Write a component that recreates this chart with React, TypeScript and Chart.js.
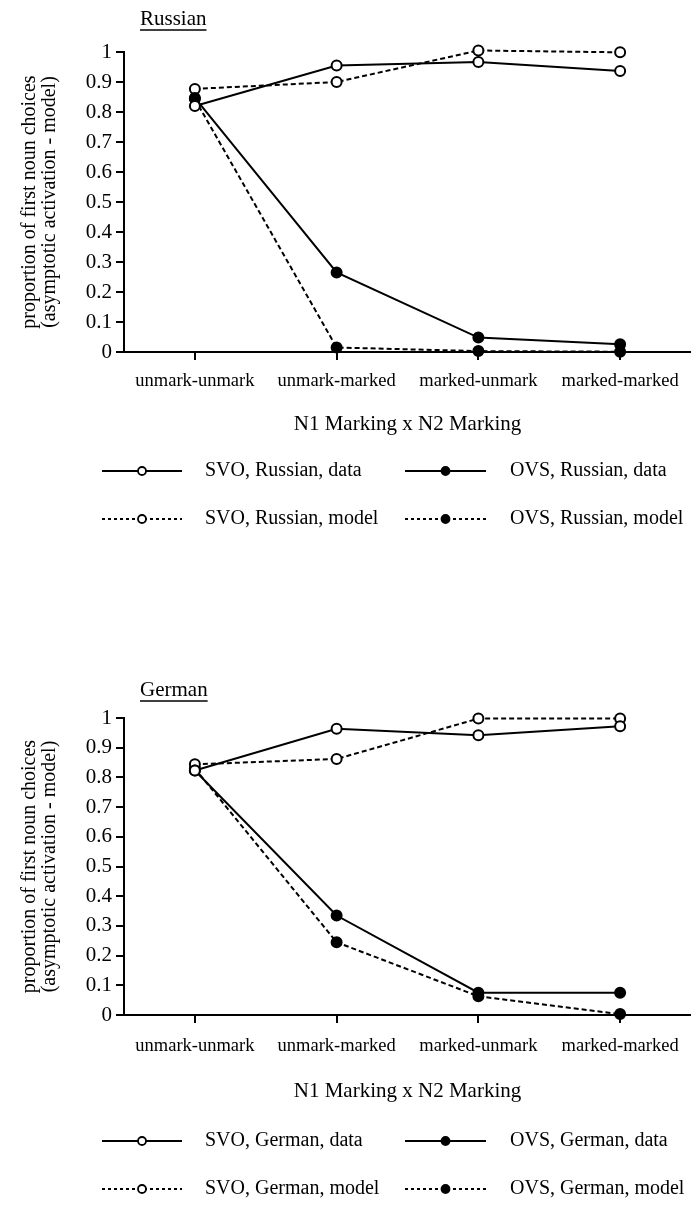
import React, { useEffect, useRef } from 'react';
import { Chart, registerables } from 'chart.js';

Chart.register(...registerables);

const categories = ['unmark-unmark', 'unmark-marked', 'marked-unmark', 'marked-marked'];
const yTickValues = [0, 0.1, 0.2, 0.3, 0.4, 0.5, 0.6, 0.7, 0.8, 0.9, 1];
const xAxisTitle = 'N1 Marking x N2 Marking';
const yAxisTitle = ['proportion of first noun choices', '(asymptotic activation - model)'];

const russianSvoData = [0.82, 0.955, 0.967, 0.937];
const russianSvoModel = [0.877, 0.9, 1.005, 0.999];
const russianOvsData = [0.847, 0.265, 0.048, 0.026];
const russianOvsModel = [0.843, 0.015, 0.003, 0.001];

const germanSvoData = [0.823, 0.964, 0.942, 0.972];
const germanSvoModel = [0.844, 0.862, 0.998, 0.998];
const germanOvsData = [0.823, 0.335, 0.075, 0.075];
const germanOvsModel = [0.83, 0.245, 0.063, 0.003];

const FONT = "'Liberation Serif', 'DejaVu Serif', serif";

type Series = { label: string; values: number[]; filled: boolean; dashed: boolean };
type Layout = {
  top: number;
  titleY: number;
  padTop: number;
  padBottom: number;
  axisHeight: number;
  labelPad: number;
  titlePadBottom: number;
  rows: number[];
};

function buildSeries(lang: string, svoData: number[], svoModel: number[], ovsData: number[], ovsModel: number[]): Series[] {
  return [
    { label: `SVO, ${lang}, data`, values: svoData, filled: false, dashed: false },
    { label: `OVS, ${lang}, data`, values: ovsData, filled: true, dashed: false },
    { label: `SVO, ${lang}, model`, values: svoModel, filled: false, dashed: true },
    { label: `OVS, ${lang}, model`, values: ovsModel, filled: true, dashed: true },
  ];
}

const DASH = [5, 3];

function Panel({ title, series, layout }: { title: string; series: Series[]; layout: Layout }) {
  const ref = useRef<HTMLCanvasElement | null>(null);
  useEffect(() => {
    document.body.style.margin = '0';
    const canvas = ref.current;
    if (!canvas) return;

    const overlay = {
      id: 'panelOverlay',
      afterDraw(chart: any) {
        const ctx = chart.ctx as CanvasRenderingContext2D;
        ctx.save();
        ctx.fillStyle = '#000';
        ctx.font = `21px ${FONT}`;
        ctx.textBaseline = 'middle';
        ctx.textAlign = 'left';
        const tx = 140;
        const ty = layout.titleY;
        ctx.fillText(title, tx, ty);
        const w = ctx.measureText(title).width;
        ctx.strokeStyle = '#000';
        ctx.lineWidth = 1.3;
        ctx.beginPath();
        ctx.moveTo(tx, ty + 11);
        ctx.lineTo(tx + w, ty + 11);
        ctx.stroke();

        const cols = [{ x0: 102, x1: 182, text: 205 }, { x0: 405, x1: 486, text: 510 }];
        series.forEach((s, i) => {
          const c = cols[i % 2];
          const y = layout.rows[Math.floor(i / 2)];
          ctx.strokeStyle = '#000';
          ctx.lineWidth = 2;
          ctx.setLineDash(s.dashed ? [3, 3] : []);
          ctx.beginPath();
          ctx.moveTo(c.x0, y);
          ctx.lineTo(c.x1, y);
          ctx.stroke();
          ctx.setLineDash([]);
          const mx = (c.x0 + c.x1) / 2;
          ctx.beginPath();
          ctx.arc(mx, y, 4, 0, Math.PI * 2);
          ctx.fillStyle = s.filled ? '#000' : '#fff';
          ctx.fill();
          ctx.lineWidth = 1.8;
          ctx.stroke();
          ctx.fillStyle = '#000';
          ctx.font = `20px ${FONT}`;
          ctx.textBaseline = 'middle';
          ctx.textAlign = 'left';
          ctx.fillText(s.label, c.text, y);
        });
        ctx.restore();
      },
    };

    const chart = new Chart(canvas, {
      type: 'line',
      data: {
        labels: categories,
        datasets: series.map((s) => ({
          label: s.label,
          data: s.values,
          borderColor: '#000',
          borderWidth: 2,
          borderDash: s.dashed ? DASH : [],
          pointRadius: 5,
          pointBorderWidth: 2,
          pointBorderColor: '#000',
          pointBackgroundColor: s.filled ? '#000' : '#fff',
          pointStyle: 'circle',
          tension: 0,
          fill: false,
          clip: false as any,
        })),
      },
      plugins: [overlay],
      options: {
        responsive: false,
        animation: false,
        devicePixelRatio: 1,
        layout: {
          autoPadding: false,
          padding: { top: layout.padTop, left: 0, right: 0, bottom: layout.padBottom },
        },
        plugins: {
          legend: { display: false },
          title: { display: false },
          tooltip: { enabled: false },
        },
        scales: {
          x: {
            type: 'category',
            offset: true,
            grid: {
              display: true,
              drawOnChartArea: false,
              drawTicks: true,
              tickLength: 8,
              color: '#000',
              lineWidth: 2,
            },
            border: { display: true, color: '#000', width: 2 },
            ticks: {
              color: '#000',
              font: { family: FONT, size: 18.5 },
              padding: layout.labelPad,
              maxRotation: 0,
              autoSkip: false,
            },
            title: {
              display: true,
              text: xAxisTitle,
              color: '#000',
              font: { family: FONT, size: 21 },
              padding: { top: 10, bottom: layout.titlePadBottom },
            },
            afterFit: (scale: any) => {
              scale.height = layout.axisHeight;
              scale.paddingLeft = 0;
              scale.paddingRight = 0;
            },
          },
          y: {
            type: 'linear',
            min: 0,
            max: 1,
            afterBuildTicks: (scale: any) => {
              scale.ticks = yTickValues.map((v) => ({ value: v }));
            },
            grid: {
              display: true,
              drawOnChartArea: false,
              drawTicks: true,
              tickLength: 8,
              color: '#000',
              lineWidth: 2,
            },
            border: { display: true, color: '#000', width: 2 },
            ticks: {
              color: '#000',
              font: { family: FONT, size: 21 },
              padding: 4,
              callback: (v: any) => String(Number(Number(v).toFixed(1))),
            },
            title: {
              display: true,
              text: yAxisTitle,
              color: '#000',
              font: { family: FONT, size: 20, lineHeight: 1.0 },
              padding: { top: 20, bottom: 0 },
            },
            afterFit: (scale: any) => {
              scale.width = 124;
            },
          },
        },
      },
    });
    return () => chart.destroy();
  }, [title, series, layout]);

  return (
    <canvas
      ref={ref}
      width={691}
      height={544}
      style={{ position: 'absolute', left: 0, top: layout.top, width: 691, height: 544, display: 'block' }}
    />
  );
}

const russianSeries = buildSeries('Russian', russianSvoData, russianSvoModel, russianOvsData, russianOvsModel);
const germanSeries = buildSeries('German', germanSvoData, germanSvoModel, germanOvsData, germanOvsModel);

const topLayout: Layout = { top: 0, titleY: 19, padTop: 52, padBottom: 102, axisHeight: 90, labelPad: 10, titlePadBottom: 5, rows: [471, 519] };
const bottomLayout: Layout = { top: 666, titleY: 24, padTop: 52, padBottom: 101, axisHeight: 94, labelPad: 12, titlePadBottom: 5, rows: [475, 523] };

export default function App() {
  return (
    <div style={{ position: 'relative', width: 691, height: 1210, background: '#fff' }}>
      <Panel title="Russian" series={russianSeries} layout={topLayout} />
      <Panel title="German" series={germanSeries} layout={bottomLayout} />
    </div>
  );
}
